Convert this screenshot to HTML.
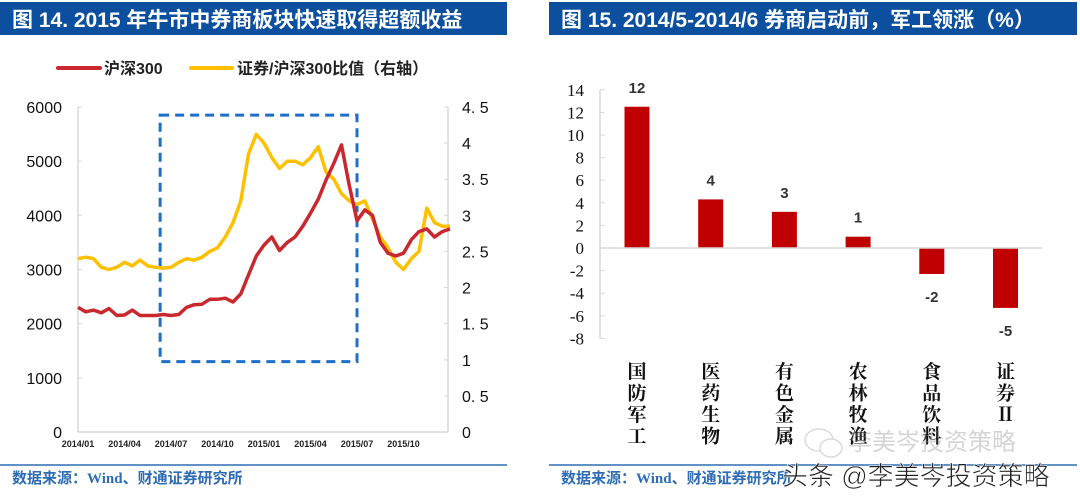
<!DOCTYPE html>
<html><head><meta charset="utf-8">
<style>
html,body{margin:0;padding:0;background:#fff;}
svg{display:block;}
text{font-family:"Liberation Sans","Noto Sans CJK SC",sans-serif;}
.serif{font-family:"Liberation Serif","Noto Serif CJK SC",serif;}
</style></head>
<body>
<svg id="page" width="1080" height="502" viewBox="0 0 1080 502" xmlns="http://www.w3.org/2000/svg">
  <!-- Left panel -->
  <rect x="0" y="2" width="507" height="33" fill="#0B4F9E"/>
  <text x="12" y="27" font-size="21" font-weight="bold" fill="#fff">图 14. 2015 年牛市中券商板块快速取得超额收益</text>
  <g>
    <line x1="58" y1="68" x2="100" y2="68" stroke="#C8282E" stroke-width="4" stroke-linecap="round"/>
    <text x="104" y="74" font-size="16" font-weight="bold" fill="#222">沪深300</text>
    <line x1="191" y1="68" x2="232" y2="68" stroke="#FFC000" stroke-width="4" stroke-linecap="round"/>
    <text x="237" y="74" font-size="16" font-weight="bold" fill="#222">证券/沪深300比值（右轴）</text>
  </g>
  <g id="left-chart"></g>
  <line x1="0" y1="465" x2="507" y2="465" stroke="#2E6DB4" stroke-width="1.5"/>
  <text x="12" y="483" font-size="15" font-weight="bold" fill="#2E6DB4">数据来源：<tspan class="serif">Wind</tspan>、财通证券研究所</text>

  <!-- Right panel -->
  <rect x="549" y="2" width="528" height="33" fill="#0B4F9E"/>
  <text x="561" y="27" font-size="21" font-weight="bold" fill="#fff">图 15. 2014/5-2014/6 券商启动前，军工领涨（%）</text>
  <g id="right-chart"></g>
  <line x1="549" y1="465" x2="1077" y2="465" stroke="#2E6DB4" stroke-width="1.5"/>
  <text x="561" y="483" font-size="15" font-weight="bold" fill="#2E6DB4">数据来源：<tspan class="serif">Wind</tspan>、财通证券研究所</text>

  <!-- Watermarks -->
  <g opacity="0.35">
    <ellipse cx="819" cy="440" rx="14" ry="11" fill="none" stroke="#999" stroke-width="1.5"/>
    <ellipse cx="831" cy="448" rx="11" ry="9" fill="#fff" stroke="#999" stroke-width="1.5"/>
    <text x="848" y="450" font-size="24" fill="#888">李美岑投资策略</text>
  </g>
  <text x="782" y="485" font-size="26" fill="#222" stroke="#fff" stroke-width="0.6">头条 @李美岑投资策略</text>
</svg>
<script>
// ---------- Left chart data (half-month samples from 2014/01) ----------
const hs300 = [2300,2220,2250,2200,2280,2150,2160,2250,2150,2150,2150,2170,2150,2170,2300,2350,2360,2450,2450,2470,2400,2550,2900,3250,3450,3600,3350,3500,3600,3800,4040,4300,4650,4960,5300,4550,3900,4100,4000,3500,3300,3250,3300,3550,3700,3750,3600,3700,3750];
const ratio = [2.4,2.42,2.4,2.28,2.25,2.28,2.35,2.3,2.38,2.3,2.28,2.27,2.28,2.35,2.4,2.38,2.42,2.5,2.55,2.7,2.9,3.2,3.85,4.12,4.0,3.8,3.65,3.75,3.75,3.7,3.8,3.95,3.6,3.5,3.3,3.2,3.15,3.2,2.95,2.7,2.55,2.35,2.25,2.4,2.5,3.1,2.9,2.85,2.85];
const leftTicks = [0,1000,2000,3000,4000,5000,6000];
const rightTicks = [0,0.5,1,1.5,2,2.5,3,3.5,4,4.5];
const rightTickLabels = ["0","0. 5","1","1. 5","2","2. 5","3","3. 5","4","4. 5"];
const xTickLabels = ["2014/01","2014/04","2014/07","2014/10","2015/01","2015/04","2015/07","2015/10"];
const xTickMonths = [0,3,6,9,12,15,18,21];
const highlightMonths = [5.3, 18];
const highlightLeftRange = [1300, 5850];

// ---------- Right chart data ----------
const categories = ["国防军工","医药生物","有色金属","农林牧渔","食品饮料","证券Ⅱ"];
const values = [12.5,4.3,3.2,1.0,-2.3,-5.3];
const valueLabels = ["12","4","3","1","-2","-5"];
const barTicks = [-8,-6,-4,-2,0,2,4,6,8,10,12,14];

const NS = "http://www.w3.org/2000/svg";
function mk(tag, attrs, parent){ const e=document.createElementNS(NS,tag); for(const k in attrs) e.setAttribute(k,attrs[k]); parent.appendChild(e); return e; }

// Left chart axes
const L = document.getElementById('left-chart');
const px0=78, px1=448, py0=432, py1=107;
const xMonth = m => px0 + m*15.5;
const yL = v => py0 - (v/6000)*(py0-py1);
const yR = v => py0 - (v/4.5)*(py0-py1);

const frame = mk('line',{x1:px0,y1:py1,x2:px0,y2:py0,stroke:'#d9d9d9','stroke-width':1.5},L);


const frameR = mk('line',{x1:px1,y1:py1,x2:px1,y2:py0,stroke:'#d9d9d9','stroke-width':1.5},L);


const frameB = mk('line',{x1:px0,y1:py0,x2:px1,y2:py0,stroke:'#d9d9d9','stroke-width':1.5},L);



leftTicks.forEach(v=>{
  const t = mk('text',{x:62,y:yL(v)+6,'font-size':16,'text-anchor':'end',fill:'#111'},L);
  t.textContent = v;
  
  
  const tk = mk('line',{x1:px0,y1:yL(v),x2:px0+4,y2:yL(v),stroke:'#d9d9d9'},L);
  
  
});
rightTicks.forEach((v,i)=>{
  const t = mk('text',{x:462,y:yR(v)+6,'font-size':16,fill:'#111'},L);
  t.textContent = rightTickLabels[i];
  
  
  const tk = mk('line',{x1:px1-4,y1:yR(v),x2:px1,y2:yR(v),stroke:'#d9d9d9'},L);
  
  
});
xTickLabels.forEach((s,i)=>{
  const t = mk('text',{x:xMonth(xTickMonths[i]),y:447,'font-size':9,'font-weight':'bold','text-anchor':'middle',fill:'#222'},L);
  t.textContent = s;
  
  
});

// Highlight box
const hb = mk('rect',{x:xMonth(highlightMonths[0]),y:yL(highlightLeftRange[1]),width:xMonth(highlightMonths[1])-xMonth(highlightMonths[0]),height:yL(highlightLeftRange[0])-yL(highlightLeftRange[1]),fill:'none',stroke:'#1F6FC8','stroke-width':3,'stroke-dasharray':'9 6'},L);



// Series
function linePath(arr, yf){ return arr.map((v,i)=>(i?'L':'M')+xMonth(i/2).toFixed(1)+' '+yf(v).toFixed(1)).join(' '); }
const ry = mk('path',{d:linePath(ratio,yR),fill:'none',stroke:'#FFC000','stroke-width':3.5,'stroke-linejoin':'round'},L);


const rh = mk('path',{d:linePath(hs300,yL),fill:'none',stroke:'#C8282E','stroke-width':3.5,'stroke-linejoin':'round'},L);



// Right chart
const R = document.getElementById('right-chart');
const bx0=600, bx1=1042;
const yB = v => 248 - v*11.3;
const xB = i => 637 + i*73.7;
const ax = mk('line',{x1:bx0,y1:yB(14),x2:bx0,y2:yB(-8),stroke:'#d9d9d9','stroke-width':1.5},R);


barTicks.forEach(v=>{
  const t = mk('text',{x:584,y:yB(v)+6,'font-size':17,'text-anchor':'end',fill:'#111',class:'serif'},R);
  t.textContent = v;
  
  
  const tk = mk('line',{x1:bx0,y1:yB(v),x2:bx0+5,y2:yB(v),stroke:'#d9d9d9'},R);
  
  
});
values.forEach((v,i)=>{
  const top = Math.min(yB(v),yB(0)), h = Math.abs(yB(v)-yB(0));
  const b = mk('rect',{x:xB(i)-12.5,y:top,width:25,height:h,fill:'#C00000'},R);
  
  
  const ly = v>=0 ? yB(v)-14 : yB(v)+28;
  const t = mk('text',{x:xB(i),y:ly,'font-size':15,'font-weight':'bold','text-anchor':'middle',fill:'#333'},R);
  t.textContent = valueLabels[i];
  
  
  const chars = Array.from(categories[i]);
  chars.forEach((c,j)=>{
    const ct = mk('text',{x:xB(i),y:378+j*21.5,'font-size':19,'font-weight':'bold','text-anchor':'middle',fill:'#111',class:'serif'},R);
    ct.textContent = c;
    
    
  });
});
const zl = mk('line',{x1:bx0,y1:yB(0),x2:bx1,y2:yB(0),stroke:'#d9d9d9','stroke-width':1.5},R);


</script>
</body></html>
